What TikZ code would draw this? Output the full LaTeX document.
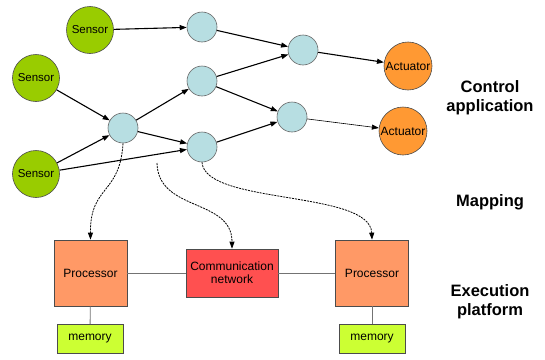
\documentclass[tikz,border=0pt]{standalone}
\usepackage{fontspec}
\setmainfont{Liberation Sans}
\usetikzlibrary{arrows.meta}
\definecolor{sensorc}{HTML}{99CC00}
\definecolor{actc}{HTML}{FF9933}
\definecolor{taskc}{HTML}{B7DEE2}
\definecolor{procc}{HTML}{FF9966}
\definecolor{commc}{HTML}{FF5050}
\definecolor{memc}{HTML}{CCFF33}
\tikzset{
  sensor/.style={circle,draw=black!70,line width=0.6pt,fill=sensorc,minimum size=47pt,inner sep=0pt,font=\fontsize{11.5}{13}\selectfont},
  actuator/.style={circle,draw=black!70,line width=0.6pt,fill=actc,minimum size=48pt,inner sep=0pt,font=\fontsize{12}{14}\selectfont},
  task/.style={circle,draw=black!60,line width=0.6pt,fill=taskc,minimum size=30pt,inner sep=0pt},
  box/.style={draw=black!70,line width=0.7pt,inner sep=0pt,font=\fontsize{12}{14}\selectfont,align=center},
  flow/.style={-{Triangle[length=7pt,width=5pt]},line width=1.1pt},
  thinflow/.style={-{Triangle[length=7pt,width=5pt]},line width=0.6pt},
  mapflow/.style={-{Triangle[length=7pt,width=5pt]},line width=0.8pt,dash pattern=on 2pt off 1pt},
  link/.style={draw=black!55,line width=0.8pt},
  side/.style={font=\fontsize{16.5}{19}\selectfont\bfseries,align=center}
}
\begin{document}
\begin{tikzpicture}[x=1pt,y=-1pt]
\useasboundingbox (0,0) rectangle (545,359);
% sensors
\node[sensor] (s1) at (90,30) {Sensor};
\node[sensor] (s2) at (36,78) {Sensor};
\node[sensor] (s3) at (36,174) {Sensor};
% tasks
\node[task] (a) at (202,27) {};
\node[task] (b) at (202,81) {};
\node[task] (c) at (123,128) {};
\node[task] (d) at (202,147) {};
\node[task] (e) at (303,50) {};
\node[task] (f) at (292,117) {};
% actuators
\node[actuator] (act1) at (408,66) {Actuator};
\node[actuator] (act2) at (403,131) {Actuator};
% platform
\node[box,fill=procc,minimum width=73pt,minimum height=66pt] (p1) at (90.5,273) {Processor};
\node[box,fill=commc,minimum width=92pt,minimum height=48pt] (net) at (232,273) {Communication\\[-1pt]network};
\node[box,fill=procc,minimum width=73pt,minimum height=66pt] (p2) at (372,273) {Processor};
\node[box,fill=memc,minimum width=66pt,minimum height=29pt] (m1) at (90,339) {memory};
\node[box,fill=memc,minimum width=66pt,minimum height=29pt] (m2) at (372,339) {memory};
% side labels
\node[side] (l1) at (490,98) {Control\\application};
\node[side] (l2) at (490,202) {Mapping};
\node[side] (l3) at (490,302) {Execution\\platform};
% platform links
\draw[link] (p1) -- (net);
\draw[link] (net) -- (p2);
\draw[link] (p1) -- (m1);
\draw[link] (p2) -- (m2);
% control flow
\draw[flow] (s1) -- (a);
\draw[flow] (a) -- (e);
\draw[flow] (b) -- (e);
\draw[flow] (b) -- (f);
\draw[flow] (c) -- (b);
\draw[flow] (c) -- (d);
\draw[flow] (s2) -- (c);
\draw[flow] (s3) -- (c);
\draw[flow] (s3) -- (d);
\draw[flow] (d) -- (f);
\draw[flow] (e) -- (act1);
\draw[thinflow] (f) -- (act2);
% mapping
\coordinate (msg) at (157,163);
\draw[mapflow] (c.south) .. controls (120,195) and (90,185) .. (p1.north);
\draw[mapflow] (msg) .. controls (158,212) and (232,198) .. (net.north);
\draw[mapflow] (d.south) .. controls (205,205) and (370,190) .. (p2.north);
\end{tikzpicture}
\end{document}
